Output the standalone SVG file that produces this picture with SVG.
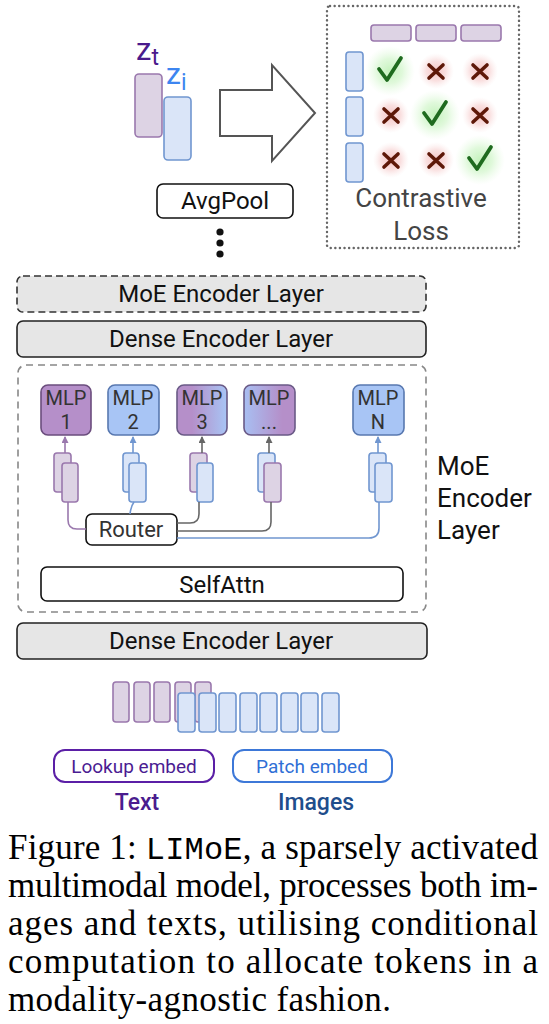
<svg xmlns="http://www.w3.org/2000/svg" width="549" height="1024" viewBox="0 0 549 1024">
<defs>
<style>
.s{font-family:Roboto,"Open Sans","Liberation Sans",sans-serif;}
.tokP{fill:#ddd3e4;stroke:#9a78ad;stroke-width:1.6;}
.tokB{fill:#dae5f8;stroke:#7096d0;stroke-width:1.6;}
.layer{fill:#e6e6e6;stroke:#222;stroke-width:1.6;}
.lbl{font-family:Roboto,"Open Sans","Liberation Sans",sans-serif;font-size:24px;fill:#111;text-anchor:middle;}
.mlp{font-family:Roboto,"Open Sans","Liberation Sans",sans-serif;font-size:20px;fill:#333;text-anchor:middle;}
.cap{font-family:"Liberation Serif","Times New Roman",serif;font-size:35px;fill:#000;}
.mono{font-family:"Liberation Mono","Courier New",monospace;font-size:32px;}
.xm{stroke:#5e1808;stroke-width:3.6;stroke-linecap:round;fill:none;}
.ck{stroke:#1f6b1f;stroke-width:3.8;stroke-linecap:round;stroke-linejoin:round;fill:none;}
</style>
<radialGradient id="gG"><stop offset="0" stop-color="#c4f2bc"/><stop offset="0.5" stop-color="#d8f7d2" stop-opacity="0.8"/><stop offset="1" stop-color="#e8fbe4" stop-opacity="0"/></radialGradient>
<radialGradient id="gR"><stop offset="0" stop-color="#f5c4c4"/><stop offset="0.55" stop-color="#f8d8d8" stop-opacity="0.8"/><stop offset="1" stop-color="#fbe9e9" stop-opacity="0"/></radialGradient>
<linearGradient id="pb" x1="0" x2="1" y1="0" y2="0"><stop offset="0.3" stop-color="#b58fc9"/><stop offset="1" stop-color="#a8c5f5"/></linearGradient>
<linearGradient id="bp" x1="0" x2="1" y1="0" y2="0"><stop offset="0" stop-color="#a8bff2"/><stop offset="0.75" stop-color="#b58fc9"/></linearGradient>
<marker id="aP" markerWidth="7" markerHeight="7" refX="6" refY="3.5" orient="auto" markerUnits="userSpaceOnUse"><path d="M0,0 L7,3.5 L0,7 z" fill="#9a78ad"/></marker>
<marker id="aB" markerWidth="7" markerHeight="7" refX="6" refY="3.5" orient="auto" markerUnits="userSpaceOnUse"><path d="M0,0 L7,3.5 L0,7 z" fill="#7096d0"/></marker>
<marker id="aG" markerWidth="7" markerHeight="7" refX="6" refY="3.5" orient="auto" markerUnits="userSpaceOnUse"><path d="M0,0 L7,3.5 L0,7 z" fill="#666"/></marker>
</defs>
<rect width="549" height="1024" fill="#fff"/>

<g id="embeddings">
<rect class="tokP" x="135" y="74" width="27" height="63" rx="4"/>
<rect class="tokB" x="164" y="97" width="27" height="63" rx="4"/>
<text class="s" x="136" y="60" font-size="31" fill="#4a1a8c">z<tspan font-size="23" dy="5">t</tspan></text>
<text class="s" x="166" y="84" font-size="30" fill="#3d85f0">z<tspan font-size="23" dy="6">i</tspan></text>
</g>

<g id="contrastive-loss">
<rect x="327" y="6" width="192" height="242" rx="3" fill="none" stroke="#666" stroke-width="2.4" stroke-dasharray="0.1,4.5" stroke-linecap="round"/>
<rect class="tokP" x="371" y="25" width="40" height="16" rx="3"/>
<rect class="tokP" x="416" y="25" width="40" height="16" rx="3"/>
<rect class="tokP" x="461" y="25" width="40" height="16" rx="3"/>
<rect class="tokB" x="346" y="52" width="17" height="39" rx="3"/>
<rect class="tokB" x="346" y="97" width="17" height="39" rx="3"/>
<rect class="tokB" x="346" y="143" width="17" height="39" rx="3"/>
<circle cx="390" cy="71" r="25" fill="url(#gG)"/>
<circle cx="435" cy="115" r="25" fill="url(#gG)"/>
<circle cx="480" cy="160" r="25" fill="url(#gG)"/>
<circle cx="436" cy="71" r="18" fill="url(#gR)"/>
<circle cx="480" cy="71" r="18" fill="url(#gR)"/>
<circle cx="391" cy="115" r="18" fill="url(#gR)"/>
<circle cx="480" cy="115" r="18" fill="url(#gR)"/>
<circle cx="391" cy="160" r="18" fill="url(#gR)"/>
<circle cx="436" cy="160" r="18" fill="url(#gR)"/>
<path class="ck" d="M379,69 L387,80 L401,58"/>
<path class="ck" d="M424,113 L432,124 L446,102"/>
<path class="ck" d="M469,158 L477,169 L491,147"/>
<path class="xm" d="M429,65 L443,78 M443,65 L429,78"/>
<path class="xm" d="M473,65 L487,78 M487,65 L473,78"/>
<path class="xm" d="M384,109 L398,122 M398,109 L384,122"/>
<path class="xm" d="M473,109 L487,122 M487,109 L473,122"/>
<path class="xm" d="M384,154 L398,167 M398,154 L384,167"/>
<path class="xm" d="M429,154 L443,167 M443,154 L429,167"/>
<text class="s" x="421" y="207" font-size="26" fill="#444" text-anchor="middle">Contrastive</text>
<text class="s" x="421" y="240" font-size="26" fill="#444" text-anchor="middle">Loss</text>
</g>

<g id="avgpool">
<rect x="157" y="184" width="136" height="34" rx="6" fill="#fff" stroke="#111" stroke-width="1.6"/>
<text class="lbl" x="225" y="209">AvgPool</text>
<circle cx="220" cy="232" r="3.6" fill="#111"/>
<circle cx="220" cy="243" r="3.6" fill="#111"/>
<circle cx="220" cy="254" r="3.6" fill="#111"/>
</g>

<g id="moe-layer-top">
<rect x="17" y="276" width="409" height="36" rx="6" fill="#e6e6e6" stroke="#333" stroke-width="1.6" stroke-dasharray="7,4"/>
<text class="lbl" x="221" y="302">MoE Encoder Layer</text>
</g>
<g id="dense-layer-top">
<rect class="layer" x="17" y="321" width="409" height="36" rx="6"/>
<text class="lbl" x="221" y="347">Dense Encoder Layer</text>
</g>

<g id="moe-layer">
<rect x="18" y="365" width="408" height="247" rx="8" fill="none" stroke="#888" stroke-width="1.6" stroke-dasharray="7,5"/>
<text class="s" x="437" y="475" font-size="26" fill="#111">MoE</text>
<text class="s" x="437" y="507" font-size="26" fill="#111">Encoder</text>
<text class="s" x="437" y="539" font-size="26" fill="#111">Layer</text>
</g>

<g id="mlp1"><rect x="41" y="385" width="50" height="50" rx="7" fill="#b58fc9" stroke="#6b4d7d" stroke-width="1.6"/><text class="mlp" x="66" y="405">MLP</text><text class="mlp" x="66" y="429">1</text></g>
<g id="mlp2"><rect x="108" y="385" width="51" height="50" rx="7" fill="#a8c5f5" stroke="#5878b0" stroke-width="1.6"/><text class="mlp" x="133" y="405">MLP</text><text class="mlp" x="133" y="429">2</text></g>
<g id="mlp3"><rect x="177" y="385" width="50" height="50" rx="7" fill="url(#pb)" stroke="#6a5a86" stroke-width="1.6"/><text class="mlp" x="202" y="405">MLP</text><text class="mlp" x="202" y="429">3</text></g>
<g id="mlp4"><rect x="244" y="385" width="51" height="50" rx="7" fill="url(#bp)" stroke="#6a5a86" stroke-width="1.6"/><text class="mlp" x="269" y="405">MLP</text><text class="mlp" x="269" y="429">...</text></g>
<g id="mlpN"><rect x="353" y="385" width="51" height="50" rx="7" fill="#a8c5f5" stroke="#5878b0" stroke-width="1.6"/><text class="mlp" x="378" y="405">MLP</text><text class="mlp" x="378" y="429">N</text></g>

<g id="tokens-routed">
<rect class="tokP" x="54" y="453" width="17" height="39" rx="3"/>
<rect class="tokP" x="62" y="463" width="16" height="39" rx="3"/>
<rect class="tokB" x="123" y="453" width="16" height="39" rx="3"/>
<rect class="tokB" x="129" y="463" width="17" height="39" rx="3"/>
<rect class="tokP" x="190" y="453" width="17" height="39" rx="3"/>
<rect class="tokB" x="197" y="463" width="16" height="39" rx="3"/>
<rect class="tokB" x="258" y="453" width="17" height="39" rx="3"/>
<rect class="tokP" x="264" y="463" width="17" height="39" rx="3"/>
<rect class="tokB" x="369" y="453" width="17" height="39" rx="3"/>
<rect class="tokB" x="375" y="463" width="17" height="39" rx="3"/>
</g>

<g id="router">
<rect x="86" y="514" width="91" height="31" rx="6" fill="#fff" stroke="#111" stroke-width="1.6"/>
<text class="s" x="131" y="537" font-size="22" fill="#333" text-anchor="middle">Router</text>
</g>

<g id="selfattn">
<rect x="41" y="567" width="362" height="34" rx="6" fill="#fff" stroke="#111" stroke-width="1.6"/>
<text class="lbl" x="222" y="593">SelfAttn</text>
</g>

<g id="dense-layer-bottom">
<rect class="layer" x="17" y="623" width="410" height="36" rx="6"/>
<text class="lbl" x="221" y="649">Dense Encoder Layer</text>
</g>

<g id="input-tokens">
<rect class="tokP" x="113" y="682" width="16" height="40" rx="3"/>
<rect class="tokP" x="134" y="682" width="16" height="40" rx="3"/>
<rect class="tokP" x="154" y="682" width="16" height="40" rx="3"/>
<rect class="tokP" x="175" y="682" width="16" height="40" rx="3"/>
<rect class="tokP" x="195" y="682" width="16" height="40" rx="3"/>
<rect class="tokB" x="178" y="693" width="17" height="39" rx="3"/>
<rect class="tokB" x="199" y="693" width="17" height="39" rx="3"/>
<rect class="tokB" x="219" y="693" width="17" height="39" rx="3"/>
<rect class="tokB" x="240" y="693" width="17" height="39" rx="3"/>
<rect class="tokB" x="260" y="693" width="17" height="39" rx="3"/>
<rect class="tokB" x="281" y="693" width="17" height="39" rx="3"/>
<rect class="tokB" x="301" y="693" width="17" height="39" rx="3"/>
<rect class="tokB" x="322" y="693" width="17" height="39" rx="3"/>
</g>

<g id="lookup-embed">
<rect x="54" y="750" width="160" height="32" rx="11" fill="#fff" stroke="#5b1fa6" stroke-width="2"/>
<text class="s" x="134" y="773" font-size="19" fill="#4b1c92" text-anchor="middle">Lookup embed</text>
<text class="s" x="137" y="810" font-size="23" font-weight="500" fill="#4b1c8e" text-anchor="middle">Text</text>
</g>
<g id="patch-embed">
<rect x="233" y="750" width="159" height="32" rx="11" fill="#fff" stroke="#3d78d8" stroke-width="2"/>
<text class="s" x="312" y="773" font-size="19" fill="#2f6fd6" text-anchor="middle">Patch embed</text>
<text class="s" x="316" y="810" font-size="23" font-weight="500" fill="#1f4e8c" text-anchor="middle">Images</text>
</g>

<g id="connectors" fill="none" stroke-width="1.6">
<polygon points="220,90 272,90 272,65 315,113 272,161 272,136 220,136" fill="#fff" stroke="#555" stroke-width="2"/>
<line x1="65" y1="453" x2="65" y2="437" stroke="#9a78ad" marker-end="url(#aP)"/>
<line x1="133" y1="453" x2="133" y2="437" stroke="#7096d0" marker-end="url(#aB)"/>
<line x1="202" y1="453" x2="202" y2="437" stroke="#666" marker-end="url(#aG)"/>
<line x1="269" y1="453" x2="269" y2="437" stroke="#666" marker-end="url(#aG)"/>
<line x1="378" y1="453" x2="378" y2="437" stroke="#7096d0" marker-end="url(#aB)"/>
<path d="M68,502 V520 Q68,529 77,529 H86" stroke="#9a78ad"/>
<path d="M130,514 Q131,506 134,502" stroke="#7096d0"/>
<path d="M177,523 H190 Q199,523 199,514 V502" stroke="#666"/>
<path d="M177,531 H262 Q271,531 271,522 V502" stroke="#666"/>
<path d="M177,538 H369 Q379,538 379,528 V502" stroke="#7096d0"/>
</g>

<g id="caption">
<text class="cap" x="8" y="859" textLength="530" lengthAdjust="spacing">Figure 1: <tspan class="mono">LIMoE</tspan>, a sparsely activated</text>
<text class="cap" x="8" y="897" textLength="530" lengthAdjust="spacing">multimodal model, processes both im-</text>
<text class="cap" x="8" y="935" textLength="530" lengthAdjust="spacing">ages and texts, utilising conditional</text>
<text class="cap" x="8" y="973" textLength="530" lengthAdjust="spacing">computation to allocate tokens in a</text>
<text class="cap" x="8" y="1011" textLength="383" lengthAdjust="spacing">modality-agnostic fashion.</text>
</g>
</svg>
